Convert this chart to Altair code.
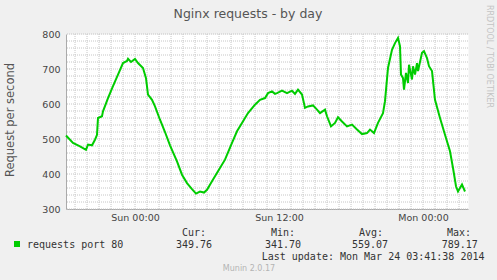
import altair as alt
import pandas as pd

# ---- data ----
TIMES = [
    "2014-03-22 18:15", "2014-03-22 18:50", "2014-03-22 19:25", "2014-03-22 19:55",
    "2014-03-22 20:05", "2014-03-22 20:25", "2014-03-22 20:40", "2014-03-22 20:50",
    "2014-03-22 20:55", "2014-03-22 21:15", "2014-03-22 21:20", "2014-03-22 21:45",
    "2014-03-22 22:10", "2014-03-22 22:35", "2014-03-22 23:00", "2014-03-22 23:20",
    "2014-03-22 23:25", "2014-03-22 23:40", "2014-03-23 00:00", "2014-03-23 00:15",
    "2014-03-23 00:40", "2014-03-23 00:55", "2014-03-23 01:05", "2014-03-23 01:25",
    "2014-03-23 01:40", "2014-03-23 02:05", "2014-03-23 02:30", "2014-03-23 02:55",
    "2014-03-23 03:30", "2014-03-23 03:55", "2014-03-23 04:20", "2014-03-23 04:45",
    "2014-03-23 05:05", "2014-03-23 05:25", "2014-03-23 05:45", "2014-03-23 06:00",
    "2014-03-23 06:25", "2014-03-23 06:55", "2014-03-23 07:30", "2014-03-23 08:05",
    "2014-03-23 08:30", "2014-03-23 08:55", "2014-03-23 09:25", "2014-03-23 10:00",
    "2014-03-23 10:25", "2014-03-23 10:50", "2014-03-23 11:05", "2014-03-23 11:25",
    "2014-03-23 11:40", "2014-03-23 11:50", "2014-03-23 12:15", "2014-03-23 12:40",
    "2014-03-23 13:05", "2014-03-23 13:20", "2014-03-23 13:35", "2014-03-23 13:55",
    "2014-03-23 14:10", "2014-03-23 14:25", "2014-03-23 14:50", "2014-03-23 15:10",
    "2014-03-23 15:25", "2014-03-23 15:50", "2014-03-23 16:00", "2014-03-23 16:20",
    "2014-03-23 16:40", "2014-03-23 16:55", "2014-03-23 17:15", "2014-03-23 17:40",
    "2014-03-23 18:05", "2014-03-23 18:30", "2014-03-23 18:55", "2014-03-23 19:20",
    "2014-03-23 19:35", "2014-03-23 19:55", "2014-03-23 20:15", "2014-03-23 20:40",
    "2014-03-23 20:50", "2014-03-23 21:05", "2014-03-23 21:25", "2014-03-23 21:40",
    "2014-03-23 21:55", "2014-03-23 22:05", "2014-03-23 22:10", "2014-03-23 22:20",
    "2014-03-23 22:25", "2014-03-23 22:35", "2014-03-23 22:45", "2014-03-23 22:50",
    "2014-03-23 23:05", "2014-03-23 23:10", "2014-03-23 23:20", "2014-03-23 23:30",
    "2014-03-23 23:35", "2014-03-23 23:55", "2014-03-24 00:05", "2014-03-24 00:20",
    "2014-03-24 00:30", "2014-03-24 00:45", "2014-03-24 01:00", "2014-03-24 01:25",
    "2014-03-24 01:50", "2014-03-24 02:15", "2014-03-24 02:30", "2014-03-24 02:45",
    "2014-03-24 02:55", "2014-03-24 03:15", "2014-03-24 03:30",
]
REQUESTS = [
    510, 489, 479, 469,
    484, 482, 498, 512,
    560, 565, 579, 617,
    651, 684, 717, 723,
    729, 720, 729, 717,
    703, 674, 627, 612,
    593, 555, 520, 482,
    436, 398, 374, 357,
    344, 350, 347, 355,
    379, 408, 441, 489,
    522, 546, 574, 598,
    612, 617, 631, 636,
    629, 631, 638, 631,
    638, 629, 641, 627,
    589, 593, 596, 584,
    574, 584, 565, 536,
    546, 562, 550, 536,
    541, 527, 514, 517,
    527, 517, 546, 574,
    608, 703, 755, 774,
    789, 765, 684, 674,
    641, 689, 660, 712,
    670, 708, 684, 717,
    694, 746, 751, 731,
    708, 694, 612, 560,
    512, 465, 417, 365,
    350, 370, 350,
]

ORIGIN = "2014-03-23 00:00"            # Sun 00:00
X_START, X_END = "2014-03-22 18:15", "2014-03-24 03:45"
X_TICK_HOURS = [0, 12, 24]
X_TICK_LABELS = ["Sun 00:00", "Sun 12:00", "Mon 00:00"]
Y_MIN, Y_MAX = 300, 800
Y_LABEL_STEP, Y_GRID_STEP = 100, 20

TITLE = "Nginx requests - by day"
Y_TITLE = "Request per second"
SERIES = "requests port 80"
STAT_NAMES = ["Cur:", "Min:", "Avg:", "Max:"]
STAT_VALUES = ["349.76", "341.70", "559.07", "789.17"]
LAST_UPDATE = "Last update: Mon Mar 24 03:41:38 2014"
FOOTER = "Munin 2.0.17"
SIDE = "RRDTOOL / TOBI OETIKER"

GREEN = "#00cc00"
GRID = "#c6c6c6"

# ---- build tables ----
origin = pd.Timestamp(ORIGIN)
hours = (pd.to_datetime(TIMES) - origin) / pd.Timedelta(hours=1)
df = pd.DataFrame({"hour": hours, "req": REQUESTS})
x0 = (pd.Timestamp(X_START) - origin) / pd.Timedelta(hours=1)
x1 = (pd.Timestamp(X_END) - origin) / pd.Timedelta(hours=1)

x_grid = pd.DataFrame({"hour": list(range(int(x0), int(x1) + 1))})
y_grid = pd.DataFrame({"req": list(range(Y_MIN, Y_MAX + 1, Y_GRID_STEP))})
x_expr = " : ".join(
    f"datum.value == {h} ? '{l}'" for h, l in zip(X_TICK_HOURS, X_TICK_LABELS)
) + " : ''"
y_labels = list(range(Y_MIN, Y_MAX + 1, Y_LABEL_STEP))

W, H = 402, 175

xscale = alt.Scale(domain=[x0, x1], nice=False, zero=False)
yscale = alt.Scale(domain=[Y_MIN, Y_MAX], nice=False, zero=False)
x_axis = alt.Axis(values=X_TICK_HOURS, labelExpr=x_expr, title=None, ticks=False, grid=False,
                  labelOverlap=False, labelFlush=False, labelBound=False,
                  labelFont="DejaVu Sans", labelFontSize=9.5, labelColor="#444",
                  labelPadding=3, domainColor="#aaaaaa")
y_axis = alt.Axis(values=y_labels, title=None, ticks=False, grid=False,
                  labelOverlap=False, labelFlush=False, labelBound=False,
                  labelFont="DejaVu Sans", labelFontSize=9.5, labelColor="#444",
                  labelPadding=6, domainColor="#aaaaaa")

line = alt.Chart(df).mark_line(color=GREEN, strokeWidth=2, interpolate="linear").encode(
    x=alt.X("hour:Q", scale=xscale, axis=x_axis),
    y=alt.Y("req:Q", scale=yscale, axis=y_axis),
)
vgrid = alt.Chart(x_grid).mark_rule(color=GRID, strokeWidth=1, strokeDash=[1, 1]).encode(
    x=alt.X("hour:Q", scale=xscale, axis=x_axis),
)
hgrid = alt.Chart(y_grid).mark_rule(color=GRID, strokeWidth=1, strokeDash=[1, 1]).encode(
    y=alt.Y("req:Q", scale=yscale, axis=y_axis),
)


def txt(text, x, y, size=10, font="DejaVu Sans Mono", color="#333", align="left", angle=0):
    return alt.Chart(alt.Data(values=[{}])).mark_text(
        text=text, align=align, baseline="middle", fontSize=size, font=font,
        color=color, angle=angle,
    ).encode(x=alt.value(x), y=alt.value(y))


layers = [vgrid, hgrid, line]
layers.append(txt(TITLE, 182, -20.5, size=12.5, font="DejaVu Sans", color="#555", align="center"))
layers.append(txt(Y_TITLE, -55, 86, size=11.5, font="DejaVu Sans", color="#555", align="center", angle=270))
layers.append(txt(SIDE, 423, 22.5, size=8, font="DejaVu Sans", color="#c4c4c4", align="center", angle=90))
layers.append(
    alt.Chart(alt.Data(values=[{}])).mark_square(size=36, color=GREEN, opacity=1, filled=True)
    .encode(x=alt.value(-49), y=alt.value(210))
)
layers.append(txt(SERIES, -39, 211))
for name, val, hx, vx in zip(STAT_NAMES, STAT_VALUES, [116, 205, 293, 381], [110, 199, 286, 375.7]):
    layers.append(txt(name, hx, 199))
    layers.append(txt(val, vx, 211))
layers.append(txt(LAST_UPDATE, 195.7, 223.3))
layers.append(txt(FOOTER, 183, 235.3, size=8, font="DejaVu Sans", color="#b4b4b4", align="center"))

chart = alt.layer(*layers).properties(
    width=W, height=H,
    autosize=alt.AutoSizeParams(type="none"),
    padding={"left": 66, "top": 34, "right": 29, "bottom": 71},
).configure(background="#f0f0f0").configure_view(fill="white", stroke="transparent")

chart.save("out.html", embed_options={"renderer": "svg", "actions": False})
